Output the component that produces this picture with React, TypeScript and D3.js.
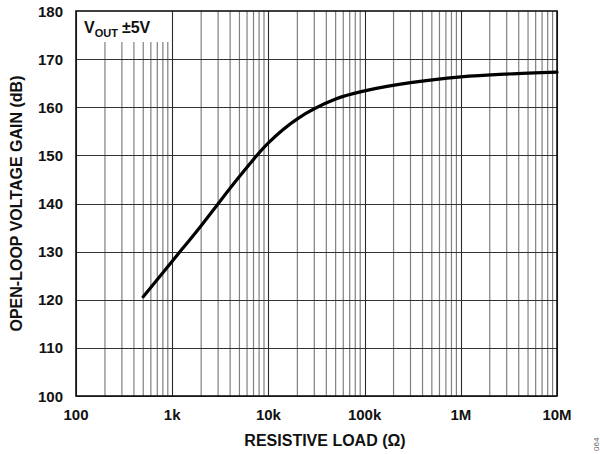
import { useEffect, useRef } from 'react';
import * as d3 from 'd3';

// open-loop gain vs resistive load
const loads = [500, 1000, 2000, 5000, 10000, 20000, 50000, 100000, 300000, 1000000, 3000000, 10000000];
const gains = [120.6, 128, 135.4, 145.6, 152.6, 157.6, 161.7, 163.4, 165.1, 166.3, 166.9, 167.3];
const xTicks = [100, 1000, 10000, 100000, 1000000, 10000000];
const xTickLabels = ['100', '1k', '10k', '100k', '1M', '10M'];
const yTicks = [100, 110, 120, 130, 140, 150, 160, 170, 180];

const W = 600;
const H = 454;
const FONT = 'Arial, "Liberation Sans", Helvetica, sans-serif';

export default function App() {
  const svgRef = useRef<SVGSVGElement>(null);

  useEffect(() => {
    if (!svgRef.current) return;
    const svg = d3.select(svgRef.current);
    svg.selectAll('*').remove();

    const left = 76, right = 557, top = 11, bottom = 396;
    const x = d3.scaleLog().domain([100, 1e7]).range([left, right]);
    const y = d3.scaleLinear().domain([100, 180]).range([bottom, top]);

    const boxRight = x(1000);
    const boxBottom = 42;

    // minor vertical grid
    const minors: number[] = [];
    for (let dec = 100; dec < 1e7; dec *= 10) {
      for (let m = 2; m <= 9; m++) minors.push(dec * m);
    }
    svg.append('g')
      .selectAll('line')
      .data(minors)
      .join('line')
      .attr('x1', d => x(d))
      .attr('x2', d => x(d))
      .attr('y1', d => (x(d) < boxRight ? boxBottom : top))
      .attr('y2', bottom)
      .attr('stroke', '#808080')
      .attr('stroke-width', 1.2);

    // horizontal grid
    svg.append('g')
      .selectAll('line')
      .data(yTicks)
      .join('line')
      .attr('x1', left)
      .attr('x2', right)
      .attr('y1', d => Math.round(y(d)) + 0.5)
      .attr('y2', d => Math.round(y(d)) + 0.5)
      .attr('stroke', d => (d === 180 ? 'none' : '#333'))
      .attr('stroke-width', 1);

    // white legend box
    svg.append('rect')
      .attr('x', left)
      .attr('y', top)
      .attr('width', boxRight - left)
      .attr('height', boxBottom - top)
      .attr('fill', '#fff');

    // decade lines
    svg.append('g')
      .selectAll('line')
      .data(xTicks)
      .join('line')
      .attr('x1', d => Math.round(x(d)) + 0.5)
      .attr('x2', d => Math.round(x(d)) + 0.5)
      .attr('y1', top)
      .attr('y2', bottom)
      .attr('stroke', '#2a2a2a')
      .attr('stroke-width', 1.1);

    // frame
    svg.append('rect')
      .attr('x', left)
      .attr('y', top)
      .attr('width', right - left)
      .attr('height', bottom - top)
      .attr('fill', 'none')
      .attr('stroke', '#111')
      .attr('stroke-width', 1.6);

    // curve
    const line = d3.line<number>()
      .x((_, i) => x(loads[i]))
      .y(d => y(d))
      .curve(d3.curveCatmullRom.alpha(0.5));
    svg.append('path')
      .attr('d', line(gains) as string)
      .attr('fill', 'none')
      .attr('stroke', '#000')
      .attr('stroke-width', 3.2)
      .attr('stroke-linecap', 'round');

    // y tick labels
    svg.append('g')
      .selectAll('text')
      .data(yTicks)
      .join('text')
      .attr('x', 63)
      .attr('y', d => y(d) + 5.5)
      .attr('text-anchor', 'end')
      .attr('font-family', FONT)
      .attr('font-weight', 'bold')
      .attr('font-size', 15)
      .attr('fill', '#111')
      .text(d => d);

    // x tick labels
    svg.append('g')
      .selectAll('text')
      .data(xTicks)
      .join('text')
      .attr('x', d => x(d))
      .attr('y', 420)
      .attr('text-anchor', 'middle')
      .attr('font-family', FONT)
      .attr('font-weight', 'bold')
      .attr('font-size', 15)
      .attr('fill', '#111')
      .text((_, i) => xTickLabels[i]);

    // axis titles
    svg.append('text')
      .attr('x', 325)
      .attr('y', 446)
      .attr('text-anchor', 'middle')
      .attr('font-family', FONT)
      .attr('font-weight', 'bold')
      .attr('font-size', 16)
      .attr('fill', '#111')
      .text('RESISTIVE LOAD (Ω)');

    svg.append('text')
      .attr('transform', `translate(22, ${(top + bottom) / 2}) rotate(-90)`)
      .attr('text-anchor', 'middle')
      .attr('font-family', FONT)
      .attr('font-weight', 'bold')
      .attr('font-size', 16)
      .attr('fill', '#111')
      .text('OPEN-LOOP VOLTAGE GAIN (dB)');

    // legend
    const leg = svg.append('text')
      .attr('x', 84)
      .attr('y', 33)
      .attr('font-family', FONT)
      .attr('font-weight', 'bold')
      .attr('font-size', 16)
      .attr('fill', '#111');
    leg.append('tspan').text('V');
    leg.append('tspan').attr('dy', 4).attr('font-size', 11).text('OUT');
    leg.append('tspan').attr('dy', -4).attr('dx', 4).text('±5V');

    // figure id
    svg.append('text')
      .attr('transform', 'translate(599, 451) rotate(-90)')
      .attr('font-family', FONT)
      .attr('font-size', 8)
      .attr('fill', '#666')
      .text('064');
  }, []);

  return (
    <div style={{ position: 'absolute', left: 0, top: 0 }}>
      <svg ref={svgRef} width={W} height={H} style={{ display: 'block', background: '#fff' }} />
    </div>
  );
}
